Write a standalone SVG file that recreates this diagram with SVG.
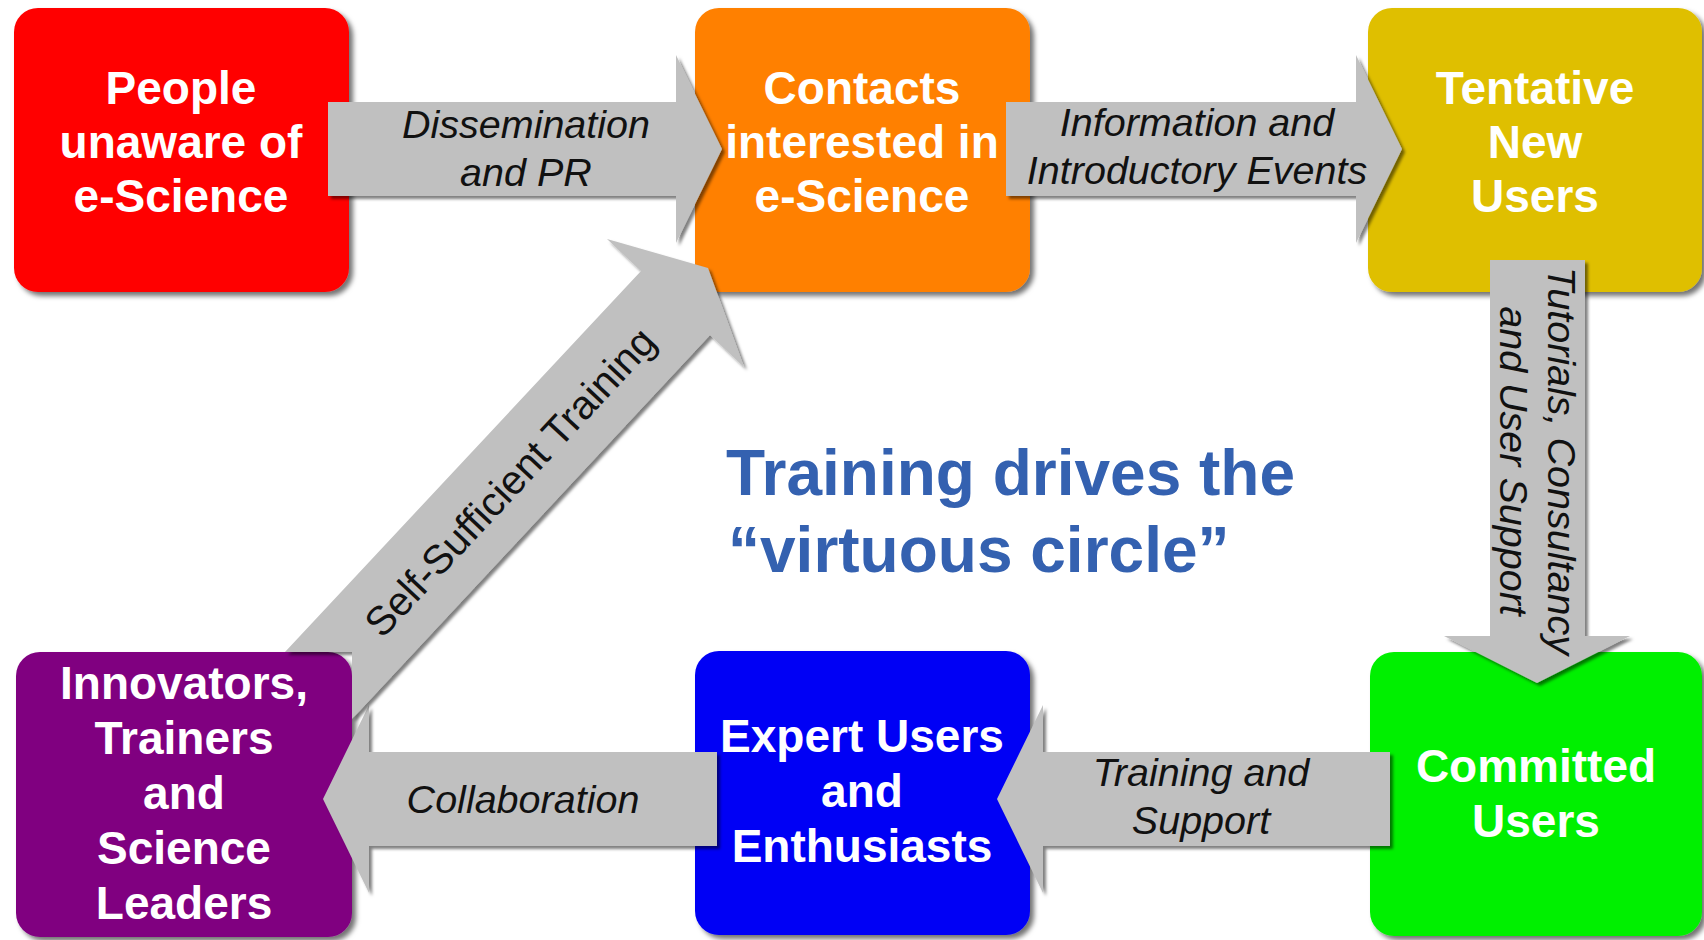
<svg xmlns="http://www.w3.org/2000/svg" width="1704" height="940" viewBox="0 0 1704 940">
<defs>
<filter id="sh" x="-10%" y="-10%" width="130%" height="130%">
<feDropShadow dx="4" dy="4" stdDeviation="2.5" flood-color="#000" flood-opacity="0.55"/>
</filter>
<filter id="ash" x="-10%" y="-10%" width="130%" height="130%">
<feDropShadow dx="3" dy="3" stdDeviation="1.8" flood-color="#000" flood-opacity="0.5"/>
</filter>
<style>
.box{filter:url(#sh);}
.arr{fill:#c0c0c0;filter:url(#ash);}
.nt{font-family:"Liberation Sans",Arial,sans-serif;font-weight:bold;font-size:46px;fill:#fff;text-anchor:middle;}
.lt{font-family:"Liberation Sans",Arial,sans-serif;font-style:italic;font-size:39.5px;fill:#111;text-anchor:middle;}
.ltu{font-family:"Liberation Sans",Arial,sans-serif;font-size:40.5px;fill:#111;text-anchor:middle;}
.big{font-family:"Liberation Sans",Arial,sans-serif;font-weight:bold;font-size:64px;fill:#3461b0;}
</style>
</defs>
<rect width="1704" height="940" fill="#fff"/>

<g id="node-people">
<rect class="box" x="14" y="8" width="335" height="284" rx="24" fill="#ff0000"/>
<text class="nt"><tspan x="181" y="104">People</tspan><tspan x="181" y="158">unaware of</tspan><tspan x="181" y="212">e-Science</tspan></text>
</g>
<g id="node-contacts">
<rect class="box" x="695" y="8" width="335" height="284" rx="24" fill="#ff8000"/>
<text class="nt"><tspan x="862" y="104">Contacts</tspan><tspan x="862" y="158">interested in</tspan><tspan x="862" y="212">e-Science</tspan></text>
</g>
<g id="node-tentative">
<rect class="box" x="1368" y="8" width="334" height="284" rx="24" fill="#dfbf00"/>
<text class="nt"><tspan x="1535" y="104">Tentative</tspan><tspan x="1535" y="158">New</tspan><tspan x="1535" y="212">Users</tspan></text>
</g>
<g id="node-committed">
<rect class="box" x="1370" y="652" width="332" height="284" rx="24" fill="#00f000"/>
<text class="nt"><tspan x="1536" y="782">Committed</tspan><tspan x="1536" y="837">Users</tspan></text>
</g>
<g id="node-expert">
<rect class="box" x="695" y="651" width="335" height="284" rx="24" fill="#0000f5"/>
<text class="nt"><tspan x="862" y="752">Expert Users</tspan><tspan x="862" y="807">and</tspan><tspan x="862" y="862">Enthusiasts</tspan></text>
</g>
<g id="node-innovators">
<rect class="box" x="16" y="652" width="336" height="285" rx="24" fill="#800080"/>
<text class="nt"><tspan x="184" y="699">Innovators,</tspan><tspan x="184" y="754">Trainers</tspan><tspan x="184" y="809">and</tspan><tspan x="184" y="864">Science</tspan><tspan x="184" y="919">Leaders</tspan></text>
</g>

<g id="connectors">
<g id="arrow-dissemination">
<polygon class="arr" points="328,102 676,102 676,55 722,149 676,243 676,196 328,196"/>
<text class="lt"><tspan x="526" y="138">Dissemination</tspan><tspan x="526" y="186">and PR</tspan></text>
</g>
<g id="arrow-information">
<polygon class="arr" points="1006,102 1356,102 1356,55 1402,149 1356,243 1356,196 1006,196"/>
<text class="lt"><tspan x="1197" y="136">Information and</tspan><tspan x="1197" y="184">Introductory Events</tspan></text>
</g>
<g id="arrow-tutorials">
<polygon class="arr" points="1490,260 1585,260 1585,636 1630,636 1537,683 1444,636 1490,636"/>
<g transform="translate(1548,461) rotate(90)">
<text class="lt" x="0" y="0">Tutorials, Consultancy</text>
<text class="lt" x="0" y="48">and User Support</text>
</g>
</g>
<g id="arrow-training">
<polygon class="arr" points="1390,752 1043,752 1043,705 997,799 1043,893 1043,846 1390,846"/>
<text class="lt"><tspan x="1201" y="786">Training and</tspan><tspan x="1201" y="834">Support</tspan></text>
</g>
<g id="arrow-collaboration">
<polygon class="arr" points="717,752 369,752 369,705 323,799 369,893 369,846 717,846"/>
<text class="lt" x="523" y="813">Collaboration</text>
</g>
<g id="arrow-selfsufficient">
<polygon class="arr" points="708,268 744,367 710,335 352,719 352,652 285,652 641,271 607,239"/>
<text class="ltu" transform="translate(510,482) rotate(-47)" x="0" y="14">Self-Sufficient Training</text>
</g>
</g>

<g id="title">
<text class="big" x="726" y="495">Training drives the</text>
<text class="big" x="728" y="572">“virtuous circle”</text>
</g>
</svg>
